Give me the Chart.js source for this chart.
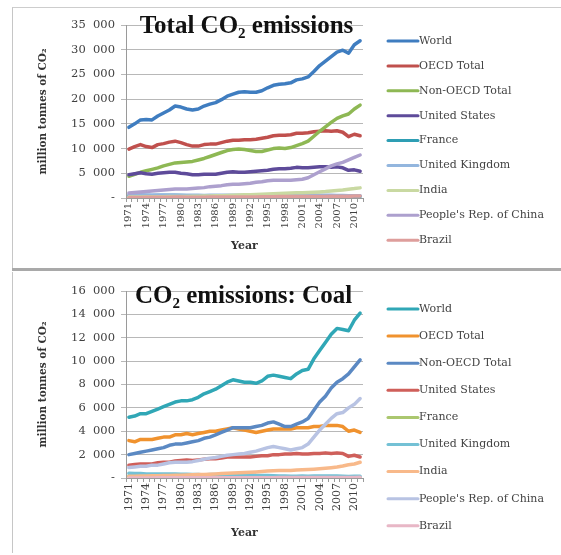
<!DOCTYPE html>
<html>
<head>
<meta charset="utf-8">
<script src="https://cdn.jsdelivr.net/npm/chart.js@4.4.1/dist/chart.umd.min.js"></script>
<style>
  html, body { margin: 0; padding: 0; background: #fff; }
  body { width: 561px; height: 555px; position: relative; overflow: hidden; }
  .panel { position: absolute; left: 12px; width: 549px; border-left: 1px solid #c6c6c6; }
  #p1 { top: 7px; height: 260px; border-top: 1px solid #cdcdcd; }
  #p2 { top: 272px; height: 281px; }
  .sep { position: absolute; left: 12px; top: 268px; width: 549px; height: 3px; background: #a9a9a9; }
  canvas { position: absolute; left: 0; top: 0; }
</style>
</head>
<body>
<div class="panel" id="p1"><canvas id="c1" width="548" height="260"></canvas></div>
<div class="sep"></div>
<div class="panel" id="p2"><canvas id="c2" width="548" height="281"></canvas></div>
<script>
// Years on the category axis
const years = [1971,1972,1973,1974,1975,1976,1977,1978,1979,1980,
               1981,1982,1983,1984,1985,1986,1987,1988,1989,1990,
               1991,1992,1993,1994,1995,1996,1997,1998,1999,2000,
               2001,2002,2003,2004,2005,2006,2007,2008,2009,2010,2011];
// Years that carry a printed tick label
const tickYears = [1971,1974,1977,1980,1983,1986,1989,1992,1995,1998,2001,2004,2007,2010];

const seriesNames = ['World','OECD Total','Non-OECD Total','United States','France',
                     'United Kingdom','India',"People's Rep. of China",'Brazil'];

// Total CO2 emissions, million tonnes
const totWorld = [14300,15000,15800,15900,15800,16600,17200,17800,18600,18400,
                  18000,17800,18000,18600,19000,19300,19900,20600,21000,21400,
                  21500,21400,21400,21700,22300,22800,23000,23100,23300,23900,
                  24100,24500,25600,26800,27700,28600,29500,29900,29300,31000,31800];
const totOECD = [9900,10400,10800,10400,10200,10800,11000,11300,11500,11200,
                 10800,10500,10500,10800,10900,10900,11200,11500,11700,11700,
                 11800,11800,11900,12100,12300,12600,12700,12700,12800,13100,
                 13100,13200,13400,13500,13600,13500,13600,13300,12400,12900,12600];
const totNonOECD = [4400,4800,5200,5500,5800,6100,6500,6800,7100,7200,
                    7300,7400,7700,8000,8400,8800,9200,9600,9800,9900,
                    9800,9600,9400,9400,9700,10000,10100,10000,10200,10600,
                    11000,11500,12500,13500,14400,15300,16100,16600,17000,18000,18800];
const totUS = [4700,4900,5100,4900,4800,5000,5100,5200,5200,5000,
               4900,4700,4700,4800,4800,4800,5000,5200,5300,5200,
               5200,5300,5400,5500,5600,5800,5900,5900,6000,6200,
               6100,6100,6200,6300,6300,6200,6300,6100,5600,5700,5400];
const totFrance = [480,510,540,500,460,510,490,510,520,500,
                   450,420,410,390,380,360,360,350,370,360,
                   380,370,350,340,350,360,360,380,380,370,
                   380,380,380,380,380,370,360,360,350,350,330];
const totUK = [640,650,660,630,590,590,600,610,630,580,
               560,550,540,530,550,560,560,560,560,560,
               570,560,550,540,530,550,530,540,530,530,
               550,530,540,540,540,540,530,520,470,480,450];
const totIndia = [200,210,220,230,240,260,270,280,300,300,
                  320,340,360,390,420,450,480,520,560,600,
                  640,680,710,750,800,860,900,940,1000,1040,
                  1070,1110,1160,1230,1300,1400,1500,1620,1780,1900,2050];
const totChina = [1000,1100,1200,1300,1400,1500,1600,1700,1800,1800,
                  1800,1900,2000,2100,2300,2400,2500,2700,2800,2800,
                  2900,3000,3200,3300,3500,3600,3600,3600,3600,3700,
                  3800,4100,4700,5300,5900,6500,6900,7200,7700,8200,8700];
const totBrazil = [90,100,110,130,140,150,160,170,180,180,
                   170,170,160,170,180,190,190,200,200,200,
                   200,210,220,230,250,260,280,290,300,310,
                   310,310,300,310,320,330,340,360,340,380,410];

// CO2 emissions from coal, million tonnes
const coalWorld = [5200,5300,5500,5500,5700,5900,6100,6300,6500,6600,
                   6600,6700,6900,7200,7400,7600,7900,8200,8400,8300,
                   8200,8200,8100,8300,8700,8800,8700,8600,8500,8900,
                   9200,9300,10200,10900,11600,12300,12800,12700,12600,13500,14100];
const coalOECD = [3200,3100,3300,3300,3300,3400,3500,3500,3700,3700,
                  3800,3700,3800,3900,4000,4000,4100,4200,4300,4200,
                  4100,4000,3900,4000,4100,4200,4200,4200,4200,4300,
                  4300,4300,4400,4400,4500,4500,4500,4400,4000,4100,3900];
const coalNonOECD = [2000,2100,2200,2300,2400,2500,2600,2800,2900,2900,
                     3000,3100,3200,3400,3500,3700,3900,4100,4300,4300,
                     4300,4300,4400,4500,4700,4800,4600,4400,4400,4600,
                     4800,5100,5800,6500,7000,7700,8200,8500,8900,9500,10100];
const coalUS = [1100,1150,1200,1200,1200,1300,1350,1350,1450,1500,
                1550,1500,1550,1600,1650,1650,1700,1800,1800,1800,
                1800,1800,1850,1900,1900,2000,2000,2050,2050,2100,
                2050,2050,2100,2100,2150,2100,2150,2100,1850,1950,1800];
const coalFrance = [160,150,140,150,140,150,140,150,160,170,
                    170,160,140,130,110,90,80,80,90,90,
                    90,90,80,70,70,70,70,80,70,70,
                    60,60,60,60,60,60,60,60,50,50,50];
const coalUK = [400,380,380,350,340,340,340,340,350,330,
                320,310,300,260,290,300,300,290,280,270,
                270,260,230,220,210,190,170,170,150,160,
                170,160,170,170,170,180,170,160,130,140,150];
const coalIndia = [150,160,170,180,190,200,210,210,230,240,
                   260,280,290,310,330,350,380,400,420,440,
                   470,500,520,550,590,620,640,640,650,680,
                   700,720,750,790,830,880,940,1020,1130,1200,1350];
const coalChina = [900,950,1000,1000,1100,1100,1200,1300,1350,1350,
                   1350,1400,1500,1600,1700,1750,1850,1950,2000,2050,
                   2100,2200,2300,2450,2600,2700,2600,2500,2400,2500,
                   2600,2900,3500,4100,4600,5100,5500,5600,6000,6300,6800];
const coalBrazil = [10,10,10,10,10,20,20,20,20,20,
                    20,20,20,30,30,30,30,30,30,30,
                    30,30,30,30,30,30,40,40,40,40,
                    40,40,40,40,40,40,40,50,40,50,60];

const totColors = ['#3f7dc0','#c0504d','#8eb854','#5e4b9a','#2e9eb4',
                   '#93b6de','#c9d9a2','#ada0ce','#de9e9c'];
const coalColors = ['#30a7b6','#f0922e','#5b89c3','#cf5f5a','#abc76f',
                    '#74c1d5','#f8b98a','#b8c3e3','#e8b7c6'];

const SERIF = '"DejaVu Serif", serif';

function thousands(v) {
  if (v === 0) return '-';
  const s = String(v);
  return s.length > 3 ? s.slice(0, -3) + '\u2007' + s.slice(-3) : s;
}

// Bold serif heading with a subscript "2", laid over the top of the plot
const headingPlugin = {
  id: 'heading',
  afterDatasetsDraw(chart, args, opts) {
    const { ctx, chartArea } = chart;
    const big = 'bold ' + opts.size + 'px "Liberation Serif"';
    const small = 'bold ' + opts.subSize + 'px "Liberation Serif"';
    let width = 0;
    for (const p of opts.parts) {
      ctx.font = p.sub ? small : big;
      width += ctx.measureText(p.text).width;
    }
    let x = (chartArea.left + chartArea.right) / 2 + opts.dx - width / 2;
    const y = chartArea.top + opts.baseline;
    ctx.save();
    ctx.fillStyle = '#111';
    ctx.textBaseline = 'alphabetic';
    ctx.textAlign = 'left';
    for (const p of opts.parts) {
      ctx.font = p.sub ? small : big;
      ctx.fillText(p.text, x, p.sub ? y + opts.subDrop : y);
      x += ctx.measureText(p.text).width;
    }
    ctx.restore();
  }
};

// Line-sample legend to the right of the plot
const sideLegendPlugin = {
  id: 'sideLegend',
  afterDraw(chart, args, opts) {
    const { ctx } = chart;
    ctx.save();
    ctx.font = opts.size + 'px ' + SERIF;
    ctx.textBaseline = 'middle';
    ctx.textAlign = 'left';
    chart.data.datasets.forEach((ds, i) => {
      const y = opts.top + i * opts.step;
      ctx.strokeStyle = ds.borderColor;
      ctx.lineWidth = 3;
      ctx.lineCap = 'round';
      ctx.beginPath();
      ctx.moveTo(opts.x, y);
      ctx.lineTo(opts.x + 30, y);
      ctx.stroke();
      ctx.fillStyle = '#444';
      ctx.fillText(ds.label, opts.x + 31, y);
    });
    ctx.restore();
  }
};

function makeChart(id, series, colors, cfg) {
  const datasets = series.map((data, i) => ({
    label: seriesNames[i],
    data: data,
    borderColor: colors[i],
    backgroundColor: colors[i],
    borderWidth: 3.5,
    pointRadius: 0,
    tension: 0,
    fill: false,
    borderCapStyle: 'round',
    borderJoinStyle: 'round',
    order: -i
  }));
  return new Chart(document.getElementById(id), {
    type: 'line',
    data: { labels: years, datasets: datasets },
    options: {
      responsive: false,
      animation: false,
      events: [],
      layout: { padding: { left: 0, top: cfg.top, right: cfg.right, bottom: 0 } },
      plugins: {
        legend: { display: false },
        tooltip: { enabled: false },
        heading: cfg.heading,
        sideLegend: cfg.legend
      },
      scales: {
        x: {
          type: 'category',
          offset: true,
          afterFit: s => { s.height = cfg.xHeight; },
          grid: { display: true, drawOnChartArea: false, drawTicks: true, tickLength: 4,
                  offset: true, color: '#9a9a9a' },
          border: { display: true, color: '#9a9a9a', width: 1 },
          ticks: {
            autoSkip: false, minRotation: 90, maxRotation: 90, padding: 1,
            color: '#404040', font: { family: SERIF, size: cfg.xFont },
            callback: function (val) {
              const yr = this.getLabelForValue(val);
              return tickYears.includes(yr) ? String(yr) : '';
            }
          },
          title: { display: true, text: 'Year', color: '#333',
                   font: { family: SERIF, size: 11, weight: 'bold' },
                   padding: { top: 0, bottom: cfg.yearPad } }
        },
        y: {
          min: 0, max: cfg.max,
          afterFit: s => { s.width = 113; },
          grid: { color: '#b8b8b8', lineWidth: 1, drawTicks: true, tickLength: 5 },
          border: { display: true, color: '#9a9a9a', width: 1 },
          ticks: { stepSize: cfg.step, padding: 6, color: '#404040',
                   font: { family: SERIF, size: 11.5 },
                   callback: v => thousands(v) },
          title: { display: true, text: 'million tonnes of CO\u2082', color: '#333',
                   font: { family: SERIF, size: 10.5, weight: 'bold' },
                   padding: { top: 24, bottom: 0 } }
        }
      }
    },
    plugins: [headingPlugin, sideLegendPlugin]
  });
}

makeChart('c1',
  [totWorld, totOECD, totNonOECD, totUS, totFrance, totUK, totIndia, totChina, totBrazil],
  totColors,
  { top: 17, right: 198, xHeight: 70, max: 35000, step: 5000, xFont: 10, yearPad: 15,
    heading: { parts: [{ text: 'Total CO' }, { text: '2', sub: true }, { text: ' emissions' }],
               size: 25, subSize: 15, subDrop: 5, baseline: 8, dx: 2 },
    legend: { x: 375, top: 33, step: 24.9, size: 11 } });

makeChart('c2',
  [coalWorld, coalOECD, coalNonOECD, coalUS, coalFrance, coalUK, coalIndia, coalChina, coalBrazil],
  coalColors,
  { top: 19, right: 198, xHeight: 75, max: 16000, step: 2000, xFont: 11, yearPad: 13,
    heading: { parts: [{ text: 'CO' }, { text: '2', sub: true }, { text: ' emissions: Coal' }],
               size: 25, subSize: 15, subDrop: 5, baseline: 12, dx: -1 },
    legend: { x: 375, top: 37, step: 27.1, size: 11 } });
</script>
</body>
</html>
